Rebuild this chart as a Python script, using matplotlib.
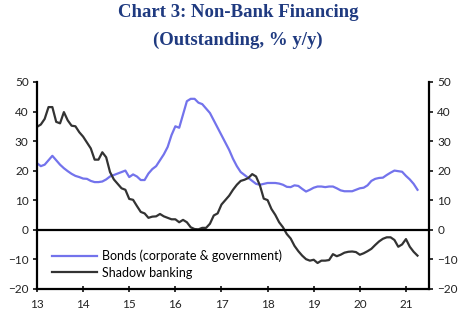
import matplotlib
matplotlib.use("Agg")
from matplotlib import pyplot as plt
import numpy as np

# monthly data, Jan 2013 onwards (% y/y)
Bonds = [22.5, 21.5, 22.0, 23.5, 25.0, 23.5, 22.0, 20.8, 19.8, 18.9, 18.2, 17.8,
         17.3, 17.2, 16.5, 16.1, 16.1, 16.3, 17.0, 18.0, 18.5, 19.0, 19.5, 20.0,
         17.8, 18.7, 18.0, 16.8, 16.8, 19.0, 20.5, 21.5, 23.5, 25.5, 28.0, 32.0,
         35.0, 34.5, 39.0, 43.5, 44.3, 44.3, 43.0, 42.5, 41.0, 39.5, 37.0, 34.5,
         32.0, 29.5, 27.0, 24.0, 21.5, 19.5, 18.5, 17.5, 16.5, 15.5, 15.2, 15.5,
         15.8, 15.8, 15.8, 15.6, 15.2, 14.5, 14.4, 15.0, 14.8, 13.8, 12.9, 13.5,
         14.2, 14.6, 14.6, 14.4, 14.6, 14.6, 14.0, 13.3, 13.0, 13.0, 13.0, 13.5,
         14.0, 14.2, 15.0, 16.5, 17.2, 17.5, 17.6, 18.5, 19.3, 20.0, 19.8, 19.6,
         18.2, 17.0, 15.5, 13.5]
Shadow = [34.8, 35.6, 37.5, 41.5, 41.5, 36.5, 36.0, 39.8, 37.0, 35.2, 35.0, 33.0,
          31.5, 29.5, 27.5, 23.7, 23.7, 26.2, 24.5, 19.5, 17.0, 15.5, 14.0, 13.5,
          10.4, 10.1, 8.0, 6.0, 5.5, 4.0, 4.4, 4.5, 5.3, 4.5, 4.0, 3.5,
          3.5, 2.5, 3.3, 2.5, 0.8, 0.2, 0.1, 0.6, 0.6, 2.0, 4.8, 5.5,
          8.5, 10.0, 11.5, 13.5, 15.2, 16.5, 16.9, 17.5, 18.8, 18.0, 15.0, 10.5,
          10.0, 7.0, 5.0, 2.5, 0.8, -1.5, -3.0, -5.5, -7.3, -8.8, -10.0, -10.5,
          -10.2, -11.3, -10.5, -10.5, -10.3, -8.3, -9.0, -8.5, -7.8, -7.5, -7.4, -7.6,
          -8.5, -8.0, -7.3, -6.5, -5.2, -4.0, -3.1, -2.6, -2.6, -3.5, -5.8, -5.0,
          -3.2, -5.8, -7.5, -8.8]
Anos = [13 + i / 12 for i in range(len(Bonds))]
Xticks = [13, 14, 15, 16, 17, 18, 19, 20, 21]
Yticks = [-20, -10, 0, 10, 20, 30, 40, 50]

plt.rcParams['font.family'] = ['Lato', 'DejaVu Sans']

fig = plt.figure(figsize=(4.76, 3.31), dpi=100)
ax = fig.add_axes([0.0777, 0.1278, 0.9013 - 0.0777, 0.7523 - 0.1278])

ax.plot(Anos, Bonds, color='#7373ec', lw=1.6, label='Bonds (corporate & government)')
ax.plot(Anos, Shadow, color='#333333', lw=1.6, label='Shadow banking')
ax.axhline(0, color='black', lw=1.6)

ax.set_xlim(13, 21.5)
ax.set_ylim(-20, 50)
ax.set_xticks(Xticks)
ax.set_xticklabels([str(x) for x in Xticks])
ax.set_yticks(Yticks)
ax.spines['top'].set_visible(False)
for s in ['left', 'right', 'bottom']:
    ax.spines[s].set_linewidth(1.6)
ax.tick_params(axis='y', which='both', direction='out', length=3, width=1.3,
               labelsize=8.5, colors='#222222', left=True, right=True,
               labelleft=True, labelright=True, pad=3)
ax.tick_params(axis='x', direction='inout', length=5, width=1.3, labelsize=8.5,
               colors='#222222', pad=5)

ax.legend(loc='lower left', bbox_to_anchor=(0.025, 0.025), frameon=False,
          fontsize=9, handlelength=3.6, handletextpad=0.4, labelspacing=0.35,
          borderaxespad=0)

fig.text(0.5, 0.961, 'Chart 3: Non-Bank Financing', ha='center', va='center',
         fontsize=13.5, fontweight='bold', color='#1f3a80', family='Liberation Serif')
fig.text(0.5, 0.879, '(Outstanding, % y/y)', ha='center', va='center',
         fontsize=13.5, fontweight='bold', color='#1f3a80', family='Liberation Serif')

fig.savefig('out.png', dpi=100)
